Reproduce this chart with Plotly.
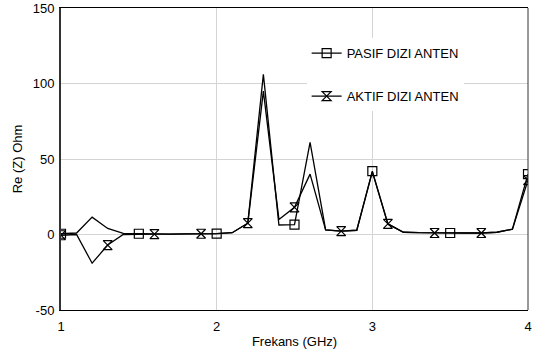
import plotly.graph_objects as go

freq = [1.0, 1.1, 1.2, 1.3, 1.4, 1.5, 1.6, 1.7, 1.8, 1.9,
        2.0, 2.1, 2.2, 2.3, 2.4, 2.5, 2.6, 2.7, 2.8, 2.9,
        3.0, 3.1, 3.2, 3.3, 3.4, 3.5, 3.6, 3.7, 3.8, 3.9, 4.0]

pasif = [0.5, 1.0, 11.5, 4.0, 0.8, 0.5, 0.3, 0.3, 0.4, 0.5,
         0.6, 1.2, 7.5, 106.0, 6.3, 6.5, 61.0, 3.0, 2.2, 2.8,
         42.0, 7.0, 1.5, 1.2, 1.0, 1.0, 1.0, 1.0, 1.5, 3.5, 40.0]

aktif = [-0.5, 0.0, -19.0, -7.0, 0.0, 0.3, 0.3, 0.3, 0.4, 0.5,
         0.6, 1.2, 7.5, 95.0, 10.0, 18.0, 40.0, 3.0, 2.2, 2.8,
         41.5, 7.0, 1.5, 1.2, 1.0, 1.0, 1.0, 1.0, 1.5, 3.5, 36.0]

names = ["PASIF DIZI ANTEN", "AKTIF DIZI ANTEN"]
x_ticks = [1, 2, 3, 4]
y_ticks = [-50, 0, 50, 100, 150]

FONT = "Liberation Sans, Arial, sans-serif"


def gapped(xs, ys, step):
    gx, gy = [], []
    for xv, yv in zip(xs[::step], ys[::step]):
        gx += [xv, None]
        gy += [yv, None]
    return gx, gy


series = [(pasif, names[0], 5, "square-open", "a"),
          (aktif, names[1], 3, "hourglass-open", "b")]

fig = go.Figure()
for ys, name, step, sym, grp in series:
    fig.add_trace(go.Scatter(x=freq, y=ys, mode="lines",
                             line=dict(color="black", width=1.3),
                             showlegend=False, hoverinfo="skip"))
for ys, name, step, sym, grp in series:
    mx, my = gapped(freq, ys, step)
    fig.add_trace(go.Scatter(x=mx, y=my, mode="lines+markers", name=name,
                             legendgroup=grp, connectgaps=False,
                             line=dict(color="black", width=1.3),
                             marker=dict(symbol=sym, size=9, color="black",
                                         line=dict(color="black", width=1.2))))

fig.update_layout(
    width=533, height=360,
    margin=dict(l=61, r=5, t=8, b=50, autoexpand=False),
    paper_bgcolor="white", plot_bgcolor="white",
    font=dict(family=FONT, size=13, color="black"),
    legend=dict(x=0.526, y=0.9, xanchor="left", yanchor="top",
                bgcolor="white", borderwidth=0, tracegroupgap=23,
                font=dict(family=FONT, size=13, color="black")),
    xaxis=dict(range=[1, 4], tickvals=x_ticks, ticktext=[str(v) for v in x_ticks],
               showgrid=True, gridcolor="#d4d4d4", gridwidth=1,
               zeroline=False, showline=True, linecolor="black", linewidth=1,
               mirror=True, ticks="", ticklabelstandoff=4,
               ticklabeloverflow="allow",
               title=dict(text="Frekans (GHz)", font=dict(size=13), standoff=4)),
    yaxis=dict(range=[-50, 150], tickvals=y_ticks, ticktext=[str(v) for v in y_ticks],
               showgrid=True, gridcolor="#d4d4d4", gridwidth=1,
               zeroline=False, showline=True, linecolor="#333333", linewidth=2,
               ticks="", ticklabelstandoff=2,
               title=dict(text="Re (Z) Ohm", font=dict(size=13), standoff=7)),
    shapes=[dict(type="line", xref="paper", yref="paper", x0=1, x1=1, y0=0, y1=1,
                 line=dict(color="#333333", width=1))],
)

fig.write_html("out.html", config={"displayModeBar": False},
               post_script="document.body.style.margin='0px';")
